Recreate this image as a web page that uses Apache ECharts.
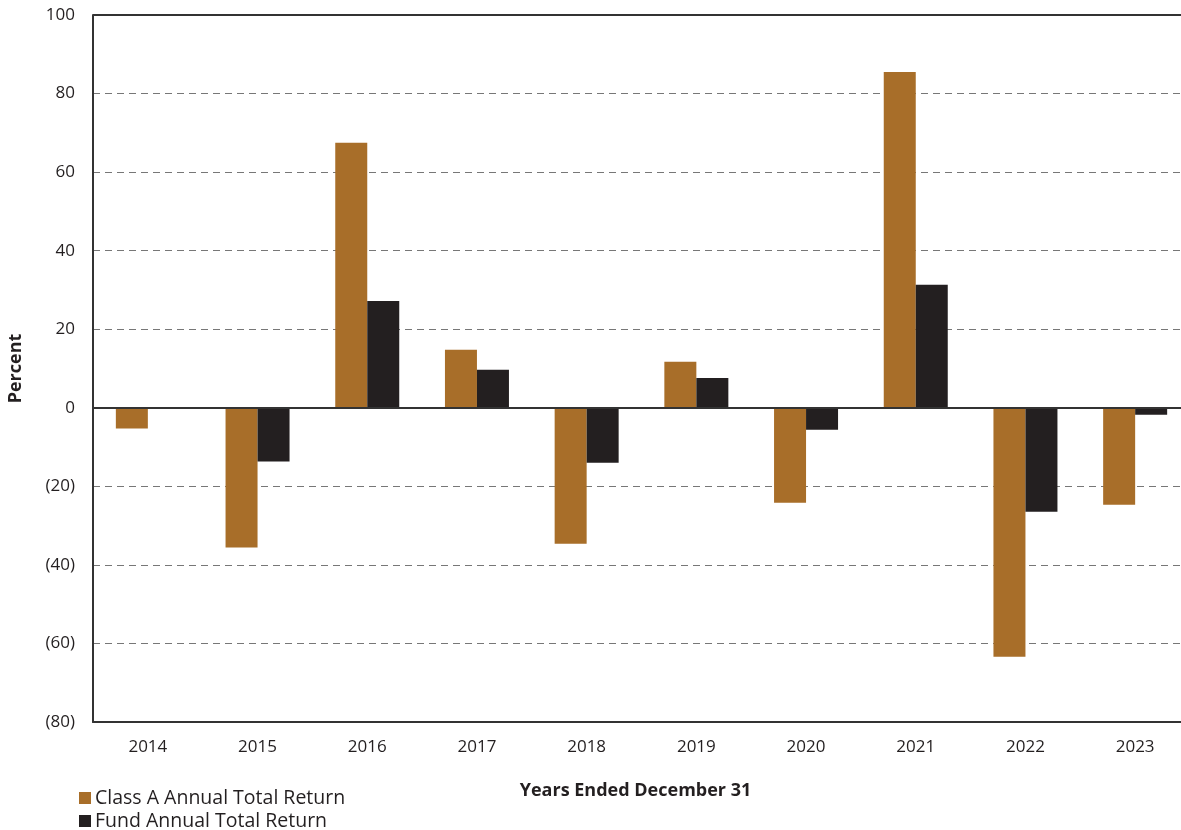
<!DOCTYPE html>
<html><head><meta charset="utf-8">
<script src="https://cdn.jsdelivr.net/npm/echarts@6/dist/echarts.min.js"></script>
<style>html,body{margin:0;padding:0;background:#fff}#c{width:1181px;height:830px}</style>
</head><body><div id="c"></div>
<script>
const years = ['2014','2015','2016','2017','2018','2019','2020','2021','2022','2023'];
const classA = [-5.3, -35.6, 67.5, 14.8, -34.6, 11.7, -24.2, 85.5, -63.4, -24.7];
const fund = [null, -13.7, 27.2, 9.7, -14.0, 7.6, -5.6, 31.3, -26.5, -1.8];
const seriesNames = ['Class A Annual Total Return', 'Fund Annual Total Return'];

const FONT = 'Open Sans';
const legendBase = {
  orient: 'horizontal', left: 79, itemWidth: 12, itemHeight: 12,
  padding: 0, icon: 'rect',
  textStyle: {fontFamily: FONT, fontSize: 19.5, lineHeight: 20, color: '#231F20', padding: [0, 0, 0, -1]}
};
const chart = echarts.init(document.getElementById('c'));
chart.setOption({
  animation: false,
  textStyle: {fontFamily: FONT},
  grid: {left: 93, width: 1097, top: 15, bottom: 108, containLabel: false, outerBoundsMode: 'none'},
  legend: [
    Object.assign({}, legendBase, {top: 788, data: [seriesNames[0]]}),
    Object.assign({}, legendBase, {top: 811, data: [seriesNames[1]]})
  ],
  xAxis: {
    type: 'category', data: years,
    axisLine: {onZero: false, lineStyle: {color: '#333', width: 2}},
    axisTick: {show: false},
    axisLabel: {fontSize: 17, color: '#231F20', margin: 17},
    name: 'Years Ended December 31', nameLocation: 'middle', nameGap: 60,
    nameTextStyle: {fontSize: 18, fontWeight: 'bold', color: '#231F20', padding: [0, 12, 0, 0]}
  },
  yAxis: {
    type: 'value', min: -80, max: 100, interval: 20,
    axisLine: {show: true, lineStyle: {color: '#333', width: 2}},
    axisTick: {show: false},
    axisLabel: {fontSize: 17, color: '#231F20', margin: 18,
      formatter: v => v < 0 ? '(' + Math.abs(v) + ')' : String(v)},
    splitLine: {show: true, lineStyle: {color: '#777', type: [7, 5], width: 1}},
    name: 'Percent', nameLocation: 'middle', nameGap: 68, nameRotate: 90,
    nameTextStyle: {fontSize: 18, fontWeight: 'bold', color: '#231F20'}
  },
  series: [
    {name: seriesNames[0], type: 'bar', data: classA, barWidth: 32, barGap: '0%',
     itemStyle: {color: '#A86E29'},
     markLine: {symbol: 'none', silent: true, label: {show: false},
       lineStyle: {color: '#333', type: 'solid', width: 2},
       data: [{yAxis: 0}, {yAxis: 100}]}},
    {name: seriesNames[1], type: 'bar', data: fund, barWidth: 32,
     itemStyle: {color: '#231F20'}}
  ]
});
</script></body></html>
